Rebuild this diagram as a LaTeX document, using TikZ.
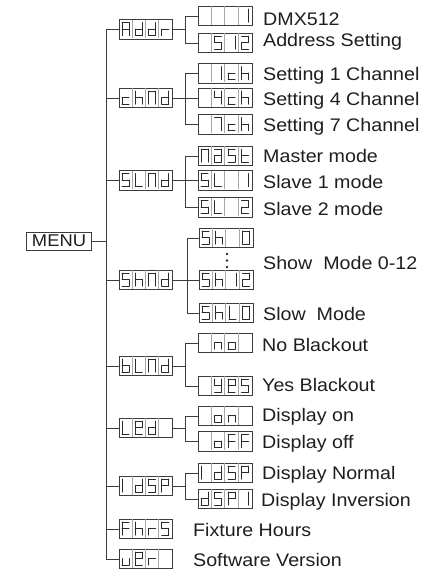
\documentclass[tikz,border=0pt]{standalone}
\usepackage{fontspec}
\setmainfont{Liberation Sans}[FakeStretch=1.08]
\definecolor{ln}{HTML}{3C3C3C}
\definecolor{sg}{HTML}{2A2A2A}
\definecolor{sp}{HTML}{A8A8A8}
\definecolor{tx}{HTML}{1E1E1E}
% seven segment paths (cell coordinates, y downwards)
\expandafter\def\csname sg-a\endcsname{(3.4,3.2) -- (10.4,3.2)}
\expandafter\def\csname sg-b\endcsname{(10.4,3.2) -- (10.4,9.75)}
\expandafter\def\csname sg-c\endcsname{(10.4,9.75) -- (10.4,16.3)}
\expandafter\def\csname sg-d\endcsname{(3.4,16.3) -- (10.4,16.3)}
\expandafter\def\csname sg-e\endcsname{(3.4,9.75) -- (3.4,16.3)}
\expandafter\def\csname sg-f\endcsname{(3.4,3.2) -- (3.4,9.75)}
\expandafter\def\csname sg-g\endcsname{(3.4,9.75) -- (10.4,9.75)}
% glyphs
\def\gn{}
\def\gA{a,b,c,e,f,g}
\def\gd{b,c,d,e,g}
\def\gr{e,g}
\def\gI{b,c}
\def\gIl{e,f}
\def\gV{a,f,g,c,d}
\def\gII{a,b,g,e,d}
\def\gc{g,e,d}
\def\gh{f,e,g,c}
\def\gN{a,b,c,e,f}
\def\gIV{f,g,b,c}
\def\gVII{a,b,c}
\def\gL{f,e,d}
\def\ga{a,b,c,d,e,g}
\def\gt{f,e,d,g}
\def\gO{a,b,c,d,e,f}
\def\gb{f,e,d,c,g}
\def\gnn{e,g,c}
\def\go{g,c,d,e}
\def\gy{f,g,b,c,d}
\def\gE{a,b,f,g,e,d}
\def\gF{a,f,g,e}
\def\gP{a,b,f,g,e}
\def\gu{e,d,c}
\newcommand\dglyph[3]{%
  \begin{scope}[xshift={#1*#2}]
    \foreach \s in #3 {\ifx\s\empty\else
      \edef\tmp{\noexpand\draw[segl] \csname sg-\s\endcsname;}\tmp\fi}
  \end{scope}}
\newcommand\disp[6]{%
  \begin{scope}[shift={(#1.north west)}]
    \foreach \k in {1,2,3}{\draw[sepl] (\k*#2,0.5) -- (\k*#2,19);}
    \dglyph{0}{#2}{#3}\dglyph{1}{#2}{#4}\dglyph{2}{#2}{#5}\dglyph{3}{#2}{#6}
  \end{scope}}
\tikzset{
  dispbox/.style={rectangle, draw=ln, line width=0.8pt, inner sep=0pt, minimum height=19.5pt},
  topbox/.style={dispbox, minimum width=53pt},
  subbox/.style={dispbox, minimum width=54pt},
  conn/.style={draw=ln, line width=0.9pt},
  segl/.style={draw=sg, line width=1.0pt, line cap=round, line join=round},
  sepl/.style={draw=sp, line width=0.6pt},
  lbl/.style={anchor=base west, inner sep=0pt, text=tx, font=\fontsize{18.2}{21}\selectfont},
  dotc/.style={fill=sg},
}
\begin{document}
\begin{tikzpicture}[x=1pt, y=-1pt]
\useasboundingbox (0,0) rectangle (441,570);
\coordinate (tx) at (106,0);
\coordinate (jx) at (185.5,0);
\coordinate (jy) at (187.5,0);
% menu
\node[dispbox, minimum width=65pt, minimum height=18pt, text=tx, font=\fontsize{17}{20}\selectfont] (menu) at (59,241) {MENU};
% top-level boxes
\node[topbox] (addr) at (145.5,29.5) {};
\node[topbox] (chnd) at (145.5,98) {};
\node[topbox] (slnd) at (145.5,180.5) {};
\node[topbox] (shnd) at (145.5,280) {};
\node[topbox] (blnd) at (145.5,366) {};
\node[topbox] (led) at (145.5,428) {};
\node[topbox] (idsp) at (145.5,486) {};
\node[topbox] (fhrs) at (145.5,529) {};
\node[topbox] (uer) at (145.5,559) {};
% sub boxes
\node[subbox] (dmx) at (225,16) {};
\node[subbox] (adrset) at (225,43) {};
\node[subbox] (ch1) at (225,73.5) {};
\node[subbox] (ch4) at (225,98) {};
\node[subbox] (ch7) at (225,124.5) {};
\node[subbox] (mast) at (225,156) {};
\node[subbox] (sl1) at (225,180.5) {};
\node[subbox] (sl2) at (225,207.5) {};
\node[subbox] (sh0) at (226,238) {};
\node[subbox] (sh12) at (226,280) {};
\node[subbox] (shl0) at (226,313) {};
\node[subbox] (no) at (225,343) {};
\node[subbox] (yes) at (225,386) {};
\node[subbox] (on) at (225,416) {};
\node[subbox] (off) at (225,441.5) {};
\node[subbox] (idspn) at (225,473) {};
\node[subbox] (dspi) at (225,499) {};
% displays
\disp{addr}{13.25}{\gA}{\gd}{\gd}{\gr}
\disp{chnd}{13.25}{\gc}{\gh}{\gN}{\gd}
\disp{slnd}{13.25}{\gV}{\gL}{\gN}{\gd}
\disp{shnd}{13.25}{\gV}{\gh}{\gN}{\gd}
\disp{blnd}{13.25}{\gb}{\gL}{\gN}{\gd}
\disp{led}{13.25}{\gL}{\gE}{\gd}{\gn}
\disp{idsp}{13.25}{\gIl}{\gd}{\gV}{\gP}
\disp{fhrs}{13.25}{\gF}{\gh}{\gr}{\gV}
\disp{uer}{13.25}{\gu}{\gE}{\gr}{\gn}
\disp{dmx}{13.5}{\gn}{\gn}{\gn}{\gI}
\disp{adrset}{13.5}{\gn}{\gV}{\gI}{\gII}
\disp{ch1}{13.5}{\gn}{\gI}{\gc}{\gh}
\disp{ch4}{13.5}{\gn}{\gIV}{\gc}{\gh}
\disp{ch7}{13.5}{\gn}{\gVII}{\gc}{\gh}
\disp{mast}{13.5}{\gN}{\ga}{\gV}{\gt}
\disp{sl1}{13.5}{\gV}{\gL}{\gn}{\gI}
\disp{sl2}{13.5}{\gV}{\gL}{\gn}{\gII}
\disp{sh0}{13.5}{\gV}{\gh}{\gn}{\gO}
\disp{sh12}{13.5}{\gV}{\gh}{\gI}{\gII}
\disp{shl0}{13.5}{\gV}{\gh}{\gL}{\gO}
\disp{no}{13.5}{\gn}{\gnn}{\go}{\gn}
\disp{yes}{13.5}{\gn}{\gy}{\gE}{\gV}
\disp{on}{13.5}{\gn}{\go}{\gnn}{\gn}
\disp{off}{13.5}{\gn}{\go}{\gF}{\gF}
\disp{idspn}{13.5}{\gIl}{\gd}{\gV}{\gP}
\disp{dspi}{13.5}{\gd}{\gV}{\gP}{\gI}
% trunk
\draw[conn] (addr.west) -- (addr.west -| tx) -- (uer.west -| tx) -- (uer.west);
\foreach \n in {chnd,slnd,shnd,blnd,led,idsp,fhrs}{\draw[conn] (\n.west) -- (\n.west -| tx);}
\draw[conn] (menu.east) -- (menu.east -| tx);
% branches
\draw[conn] (addr.east) -- (addr.east -| jx);
\draw[conn] (dmx.west) -- (dmx.west -| jx) -- (adrset.west -| jx) -- (adrset.west);
\draw[conn] (chnd.east) -- (ch4.west);
\draw[conn] (ch1.west) -- (ch1.west -| jx) -- (ch7.west -| jx) -- (ch7.west);
\draw[conn] (slnd.east) -- (sl1.west);
\draw[conn] (mast.west) -- (mast.west -| jx) -- (sl2.west -| jx) -- (sl2.west);
\draw[conn] (shnd.east) -- (sh12.west);
\draw[conn] (sh0.west) -- (sh0.west -| jy) -- (shl0.west -| jy) -- (shl0.west);
\draw[conn] (blnd.east) -- (blnd.east -| jx);
\draw[conn] (no.west) -- (no.west -| jx) -- (yes.west -| jx) -- (yes.west);
\draw[conn] (led.east) -- (led.east -| jx);
\draw[conn] (on.west) -- (on.west -| jx) -- (off.west -| jx) -- (off.west);
\draw[conn] (idsp.east) -- (idsp.east -| jx);
\draw[conn] (idspn.west) -- (idspn.west -| jx) -- (dspi.west -| jx) -- (dspi.west);
% dots
\fill[dotc] (227,254) circle (1.4) (227,260.5) circle (1.4) (227,267) circle (1.4);
% labels
\node[lbl] (t1) at (263,25) {DMX512};
\node[lbl] (t2) at (263,46.5) {Address Setting};
\node[lbl] (t3) at (263,80.5) {Setting 1 Channel};
\node[lbl] (t4) at (263,105.5) {Setting 4 Channel};
\node[lbl] (t5) at (263,131) {Setting 7 Channel};
\node[lbl] (t6) at (263,162) {Master mode};
\node[lbl] (t7) at (263,188.5) {Slave 1 mode};
\node[lbl] (t8) at (263,215) {Slave 2 mode};
\node[lbl] (t9) at (263,269.5) {Show~~Mode 0-12};
\node[lbl] (t10) at (263,320.5) {Slow~~Mode};
\node[lbl] (t11) at (262,351) {No Blackout};
\node[lbl] (t12) at (262,391.5) {Yes Blackout};
\node[lbl] (t13) at (262,421.5) {Display on};
\node[lbl] (t14) at (262,448) {Display off};
\node[lbl] (t15) at (262,479.5) {Display Normal};
\node[lbl] (t16) at (261,506) {Display Inversion};
\node[lbl] (t17) at (193,536) {Fixture Hours};
\node[lbl] (t18) at (193,566) {Software Version};
\end{tikzpicture}
\end{document}
